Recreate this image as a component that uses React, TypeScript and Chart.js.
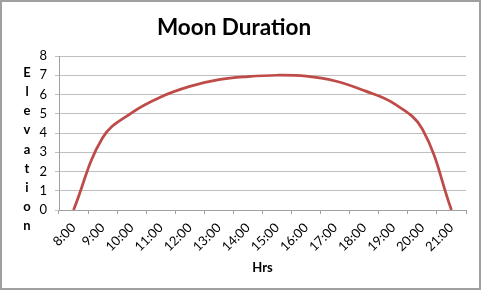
import React, { useEffect, useRef } from "react";
import { Chart, registerables } from "chart.js";

Chart.register(...registerables);

const categories = ["8:00", "9:00", "10:00", "11:00", "12:00", "13:00", "14:00", "15:00", "16:00", "17:00", "18:00", "19:00", "20:00", "21:00"];
const elevation = [0, 3.75, 5.05, 5.87, 6.42, 6.77, 6.93, 7.0, 6.95, 6.7, 6.2, 5.55, 4.2, 0];
const yTicks = [0, 1, 2, 3, 4, 5, 6, 7, 8];
const chartTitle = "Moon Duration";
const xTitle = "Hrs";
const yTitle = "Elevation";

const FONT = "Lato, 'Open Sans', sans-serif";

const stackedTitle = {
  id: "stackedTitle",
  afterDraw(chart: any) {
    const ctx = chart.ctx;
    ctx.save();
    ctx.font = `bold 13px ${FONT}`;
    ctx.fillStyle = "#000";
    ctx.textAlign = "center";
    ctx.textBaseline = "middle";
    const letters = yTitle.split("");
    letters.forEach((ch, i) => {
      ctx.fillText(ch, 25, 71 + i * 19.1);
    });
    ctx.restore();
  },
};

export default function App() {
  const ref = useRef<HTMLCanvasElement>(null);
  useEffect(() => {
    document.body.style.margin = "0";
    const chart = new Chart(ref.current!, {
      type: "line",
      data: {
        labels: categories,
        datasets: [
          {
            data: elevation,
            borderColor: "#be4b48",
            borderWidth: 2.75,
            pointRadius: 0,
            tension: 0.4,
            fill: false,
          },
        ],
      },
      options: {
        animation: false,
        responsive: false,
        layout: { padding: { left: 0, right: 13, top: 0, bottom: 0 } },
        plugins: {
          legend: { display: false },
          tooltip: { enabled: false },
          title: {
            display: true,
            text: chartTitle,
            color: "#000",
            font: { family: FONT, size: 22.5, weight: "bold" },
            padding: { top: 12, bottom: 15 },
          },
        },
        scales: {
          x: {
            type: "category",
            offset: true,
            grid: {
              offset: true,
              drawOnChartArea: false,
              drawTicks: true,
              tickLength: 4,
              color: "#a0a0a0",
            },
            border: { display: true, color: "#a0a0a0" },
            ticks: {
              minRotation: 45,
              maxRotation: 45,
              autoSkip: false,
              padding: 6,
              color: "#000",
              font: { family: FONT, size: 13 },
            },
            title: {
              display: true,
              text: xTitle,
              color: "#000",
              font: { family: FONT, size: 13, weight: "bold" },
              padding: { top: 0, bottom: 12 },
            },
            afterFit: (s: any) => {
              s.height = 78;
            },
          },
          y: {
            min: 0,
            max: 8,
            afterBuildTicks: (s: any) => {
              s.ticks = yTicks.map((v) => ({ value: v }));
            },
            grid: {
              color: "#bfbfbf",
              drawTicks: true,
              tickLength: 4,
            },
            border: { display: true, color: "#a0a0a0" },
            ticks: {
              padding: 8,
              color: "#000",
              font: { family: FONT, size: 13 },
            },
            afterFit: (s: any) => {
              s.width = 57;
            },
          },
        },
      },
      plugins: [stackedTitle],
    });
    return () => chart.destroy();
  }, []);
  return (
    <div
      style={{
        position: "absolute",
        left: 0,
        top: 0,
        width: 481,
        height: 290,
        boxSizing: "border-box",
        border: "2px solid #a0a0a0",
        background: "#fff",
      }}
    >
      <canvas ref={ref} width={477} height={286} style={{ display: "block" }} />
    </div>
  );
}
